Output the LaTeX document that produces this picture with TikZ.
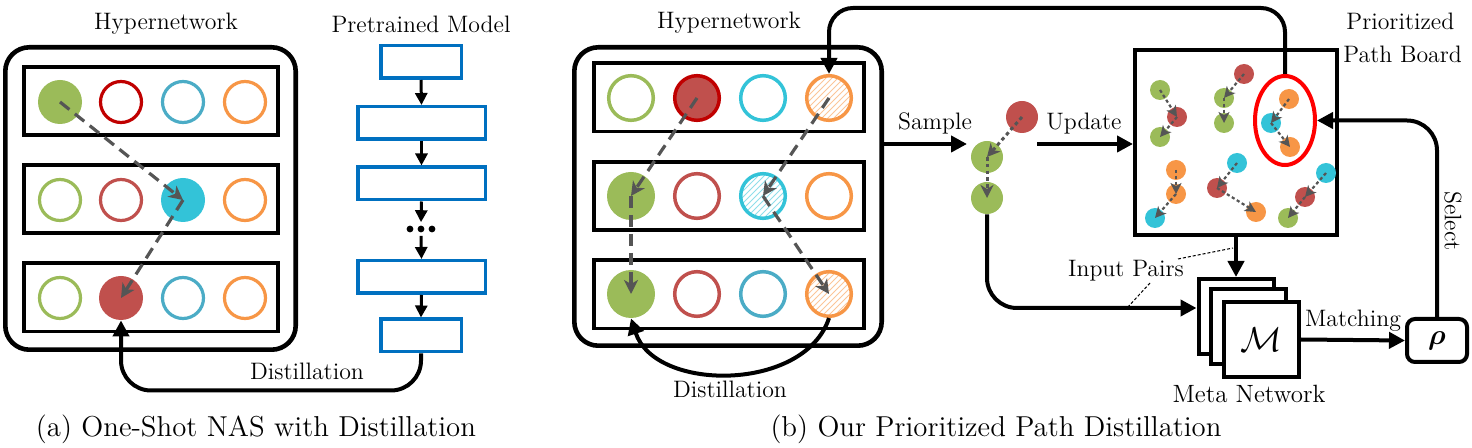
\documentclass[tikz,border=0pt]{standalone}
\usepackage{bm}
\usetikzlibrary{arrows.meta,patterns,calc,shapes.geometric}
\definecolor{cgreen}{HTML}{9BBB59}
\definecolor{cred}{HTML}{C0504D}
\definecolor{cdred}{HTML}{C00000}
\definecolor{cblue}{HTML}{4BACC6}
\definecolor{ccyan}{HTML}{33C3D8}
\definecolor{corange}{HTML}{F79646}
\definecolor{cgray}{HTML}{555555}
\definecolor{pblue}{HTML}{0070C0}
\begin{document}
\begin{tikzpicture}[x=0.5pt,y=-0.5pt,
  lab/.style={font=\rmfamily\fontsize{11.9}{13}\selectfont, inner sep=0pt, anchor=base},
  captext/.style={font=\rmfamily\fontsize{14.4}{16}\selectfont, inner sep=0pt, anchor=base},
  outerbox/.style={draw, line width=2.3pt, rounded corners=12pt, inner sep=0pt},
  rowa/.style={draw, line width=1.8pt, minimum width=127.2pt, minimum height=34.2pt, inner sep=0pt},
  rowb/.style={draw, line width=1.8pt, minimum width=135.2pt, minimum height=34.2pt, inner sep=0pt},
  ringa/.style={circle, draw=#1, line width=1.6pt, minimum size=20.5pt, inner sep=0pt},
  filla/.style={circle, fill=#1, minimum size=22pt, inner sep=0pt},
  ringb/.style={circle, draw=#1, line width=1.75pt, minimum size=22.3pt, inner sep=0pt},
  fillb/.style={circle, fill=#1, minimum size=24pt, inner sep=0pt},
  hatchb/.style={circle, draw=#1, line width=1.75pt, minimum size=22.3pt, inner sep=0pt, pattern=north east lines, pattern color=#1!55},
  smallc/.style={circle, fill=#1, minimum size=10pt, inner sep=0pt},
  midc/.style={circle, fill=#1, minimum size=16pt, inner sep=0pt},
  pbox/.style={draw=pblue, line width=1.75pt, minimum height=16.25pt, inner sep=0pt},
  pdot/.style={circle, fill=black, minimum size=3.4pt, inner sep=0pt},
  gpath/.style={draw=cgray, line width=1.6pt, dash pattern=on 6pt off 3.5pt, -{Stealth[length=7pt,width=7pt,inset=2pt]}},
  spath/.style={draw=cgray, line width=1.5pt, dash pattern=on 1.8pt off 1.6pt, -{Stealth[length=6.5pt,width=6.5pt,inset=2pt]}},
  bpath/.style={draw=cgray, line width=1.1pt, dash pattern=on 1.6pt off 1.3pt, -{Stealth[length=5.5pt,width=5.5pt,inset=1.5pt]}},
  bigarrow/.style={draw, line width=2pt, -{Triangle[length=8pt,width=8pt]}},
  parrow/.style={draw, line width=1.5pt, -{Triangle[length=6pt,width=6pt]}},
  mbox/.style={draw, line width=2pt, fill=white, minimum size=37.5pt, inner sep=0pt},
  thindash/.style={draw, line width=0.5pt, dash pattern=on 1.5pt off 1pt}
]
\path[use as bounding box] (0,0) rectangle (1472,448);

% ===================== Panel (a) =====================
\node[lab] (hyA) at (166,30) {Hypernetwork};
\node[outerbox, minimum width=145.2pt, minimum height=151.2pt] (ha) at (150.5,198.5) {};
\node[rowa] (ar1) at (151,101) {};
\node[rowa] (ar2) at (151,199) {};
\node[rowa] (ar3) at (151,297.5) {};

\node[filla=cgreen] (a11) at (60,102) {};
\node[ringa=cdred] (a12) at (121,102) {};
\node[ringa=cblue] (a13) at (183,102) {};
\node[ringa=corange] (a14) at (245,102) {};
\node[ringa=cgreen] (a21) at (60,200) {};
\node[ringa=cred] (a22) at (121,200) {};
\node[filla=ccyan] (a23) at (183,200) {};
\node[ringa=corange] (a24) at (245,200) {};
\node[ringa=cgreen] (a31) at (60,298) {};
\node[filla=cred] (a32) at (121,298) {};
\node[ringa=cblue] (a33) at (183,298) {};
\node[ringa=corange] (a34) at (245,298) {};

\draw[gpath] (a11.center) -- (a23.center);
\draw[gpath] (a23.center) -- (a32.center);

% Pretrained model
\node[lab] (ptm) at (421,33) {Pretrained Model};
\node[pbox, minimum width=40.25pt] (p1) at (421,62) {};
\node[pbox, minimum width=63.75pt] (p2) at (421.5,123) {};
\node[pbox, minimum width=63.75pt] (p3) at (421.5,183.5) {};
\node[pdot] (pd1) at (410,229) {};
\node[pdot] (pd2) at (421,229) {};
\node[pdot] (pd3) at (432,229) {};
\node[pbox, minimum width=63.75pt] (p4) at (421.5,277) {};
\node[pbox, minimum width=40.25pt] (p5) at (421,335.5) {};
\draw[parrow] (p1.south) -- (p2.north);
\draw[parrow] (p2.south) -- (p3.north);
\draw[parrow] (p3.south) -- ([yshift=1.5pt]pd2.north);
\draw[parrow] ([yshift=-1.5pt]pd2.south) -- (p4.north);
\draw[parrow] (p4.south) -- (p5.north);

\draw[bigarrow, rounded corners=15pt] (p5.south) -- ++(0,37) -| (a32.south);
\node[lab] (distA) at (307,380) {Distillation};

\node[captext] (capA) at (256,437) {(a) One-Shot NAS with Distillation};

% ===================== Panel (b) =====================
\node[lab] (hyB) at (729,29) {Hypernetwork};
\node[outerbox, minimum width=153.7pt, minimum height=149.2pt] (hb) at (728,196.5) {};
\node[rowb] (br1) at (729,97.5) {};
\node[rowb] (br2) at (729,196) {};
\node[rowb] (br3) at (729,294.5) {};

\node[ringb=cgreen] (b11) at (631,98) {};
\node[ringb=cdred, fill=cred] (b12) at (697,98) {};
\node[ringb=ccyan] (b13) at (763,98) {};
\node[hatchb=corange] (b14) at (829,98) {};
\node[fillb=cgreen] (b21) at (631,196) {};
\node[ringb=cred] (b22) at (697,196) {};
\node[hatchb=ccyan] (b23) at (763,196) {};
\node[ringb=corange] (b24) at (829,196) {};
\node[fillb=cgreen] (b31) at (631,294) {};
\node[ringb=cred] (b32) at (697,294) {};
\node[ringb=cblue] (b33) at (763,294) {};
\node[hatchb=corange] (b34) at (829,294) {};

\draw[gpath] (b12.center) -- (b21.center);
\draw[gpath] (b21.center) -- (b31.center);
\draw[gpath] (b14.center) -- (b23.center);
\draw[gpath] (b23.center) -- (b34.center);

\draw[bigarrow] (b34.south) .. controls ($(b34.south)+(-24,74)$) and ($(b31.south)+(24,74)$) .. (b31.south);
\node[lab] (distB) at (730,398) {Distillation};

\node[captext] (capB) at (996,437) {(b) Our Prioritized Path Distillation};

% sampled path
\coordinate (sampE) at (967,144);
\draw[bigarrow] (hb.east |- sampE) -- (sampE);
\node[lab] (sampL) at (935,130) {Sample};
\node[midc=cred] (s1) at (1022,117) {};
\node[midc=cgreen] (s2) at (987,157) {};
\node[midc=cgreen] (s3) at (987,198) {};
\draw[spath] (s1.center) -- (s2.center);
\draw[spath] (s2.center) -- (s3.center);

\coordinate (updS) at (1037,144);
\node[lab] (updL) at (1084,130) {Update};

% board
\node[draw, line width=2pt, minimum width=101pt, minimum height=92.5pt, inner sep=0pt] (board) at (1236,142.5) {};
\draw[bigarrow] (updS) -- (updS -| board.west);
\node[lab, anchor=base west] (pr1) at (1346,30) {Prioritized};
\node[lab, anchor=base west] (pr2) at (1343,63) {Path Board};

% group 1
\node[smallc=cgreen] (g1a) at (1160,90) {};
\node[smallc=cred] (g1b) at (1177,117) {};
\node[smallc=cgreen] (g1c) at (1160,137) {};
\draw[bpath] (g1a.center) -- (g1b.center);
\draw[bpath] (g1b.center) -- (g1c.center);
% group 2
\node[smallc=cred] (g2a) at (1244,74) {};
\node[smallc=cgreen] (g2b) at (1224,98) {};
\node[smallc=cgreen] (g2c) at (1224,123) {};
\draw[bpath] (g2a.center) -- (g2b.center);
\draw[bpath] (g2b.center) -- (g2c.center);
% group 3
\node[smallc=corange] (g3a) at (1289,99) {};
\node[smallc=ccyan] (g3b) at (1271,123) {};
\node[smallc=corange] (g3c) at (1290,147) {};
\draw[bpath] (g3a.center) -- (g3b.center);
\draw[bpath] (g3b.center) -- (g3c.center);
% group 4
\node[smallc=corange] (g4a) at (1176,170) {};
\node[smallc=corange] (g4b) at (1176,194) {};
\node[smallc=ccyan] (g4c) at (1155,218) {};
\draw[bpath] (g4a.center) -- (g4b.center);
\draw[bpath] (g4b.center) -- (g4c.center);
% group 5
\node[smallc=ccyan] (g5a) at (1237,163) {};
\node[smallc=cred] (g5b) at (1217,188) {};
\node[smallc=corange] (g5c) at (1256,212) {};
\draw[bpath] (g5a.center) -- (g5b.center);
\draw[bpath] (g5b.center) -- (g5c.center);
% group 6
\node[smallc=ccyan] (g6a) at (1326,173) {};
\node[smallc=cred] (g6b) at (1305,197) {};
\node[smallc=cgreen] (g6c) at (1288,218) {};
\draw[bpath] (g6a.center) -- (g6b.center);
\draw[bpath] (g6b.center) -- (g6c.center);

\node[ellipse, draw=red, line width=2pt, minimum width=30pt, minimum height=44.5pt, inner sep=0pt] (ell) at (1285,120.5) {};

\coordinate (topc) at (1060,8);
\draw[bigarrow, rounded corners=12pt] (ell.north) |- (topc) -| (b14.north);

% meta network
\node[mbox] (m1) at (1236,316.5) {};
\node[mbox] (m2) at (1248,327) {};
\node[mbox, font=\fontsize{19}{19}\selectfont] (m3) at (1261.5,339.5) {$\mathcal{M}$};
\node[lab, font=\rmfamily\fontsize{12.5}{14}\selectfont] (metaL) at (1249,403) {Meta Network};
\draw[bigarrow] (board.south) -- (m1.north);
\draw[bigarrow, rounded corners=15pt] (s3.south) |- ([yshift=4.25pt]m1.west);

\node[draw, line width=2pt, rounded corners=4pt, minimum width=30pt, minimum height=21.5pt, inner sep=0pt, font=\fontsize{15}{15}\selectfont] (rho) at (1437,340.5) {$\bm{\rho}$};
\draw[bigarrow] (m3.east) -- (rho.west);
\node[lab] (matchL) at (1353,327) {Matching};

\draw[bigarrow, rounded corners=15pt] (rho.north) |- (ell.east);
\node[lab, anchor=center, rotate=-90] (selL) at (1453,221) {Select};

% input pairs
\node[lab] (ipL) at (1126,277) {Input Pairs};
\coordinate (ip1) at (1233,248);
\coordinate (ip2) at (1127,308);
\coordinate (ipa) at (1178,259);
\coordinate (ipb) at (1150,283);
\draw[thindash] (ipa) -- (ip1);
\draw[thindash] (ipb) -- (ip2);
\end{tikzpicture}
\end{document}
